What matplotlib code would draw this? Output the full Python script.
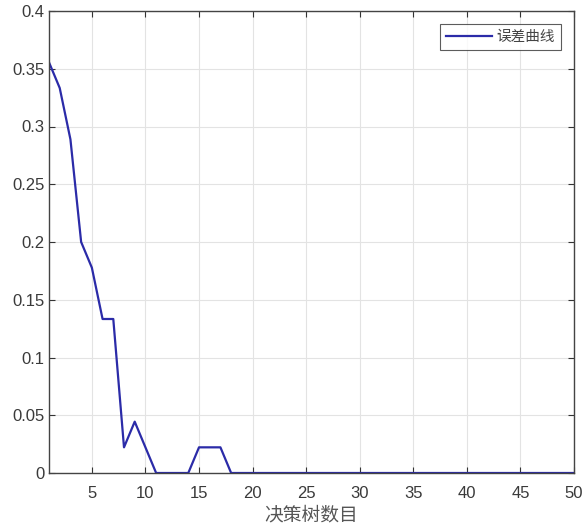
import matplotlib
matplotlib.use("Agg")
import matplotlib.pyplot as plt

trees = list(range(1, 51))
errors = [16/45, 15/45, 13/45, 9/45, 8/45, 6/45, 6/45, 1/45, 2/45, 1/45,
          0, 0, 0, 0, 1/45, 1/45, 1/45, 0] + [0] * 32
xticks = [5, 10, 15, 20, 25, 30, 35, 40, 45, 50]
yticks = [0, 0.05, 0.1, 0.15, 0.2, 0.25, 0.3, 0.35, 0.4]
ytick_labels = ["0", "0.05", "0.1", "0.15", "0.2", "0.25", "0.3", "0.35", "0.4"]

plt.rcParams['font.family'] = ['Liberation Sans', 'Noto Sans CJK SC', 'DejaVu Sans']

fig = plt.figure(figsize=(5.82, 5.31), dpi=100)
ax = fig.add_axes([49/582, 58/531, 525/582, 462/531])
ax.plot(trees, errors, color='#2b2ba8', lw=1.6, label='误差曲线')
ax.set_xlim(1, 50)
ax.set_ylim(0, 0.4)
ax.set_xticks(xticks)
ax.set_yticks(yticks)
ax.set_yticklabels(ytick_labels)
ax.grid(True, color='#e3e3e3', lw=0.8)
ax.set_axisbelow(True)
ax.tick_params(direction='in', top=True, right=True, length=4, color='#333333',
               labelsize=12, labelcolor='#3a3a3a')
ax.tick_params(axis='x', pad=9)
ax.tick_params(axis='y', pad=3)
for s in ax.spines.values():
    s.set_color('#444444')
    s.set_linewidth(1.0)
ax.set_xlabel('决策树数目', fontsize=13.5, color='#555555',
              family=['Noto Sans CJK SC', 'DejaVu Sans'], labelpad=3)
leg = ax.legend(loc='upper right', frameon=True, fancybox=False,
                edgecolor='#333333', prop={'family': ['Noto Sans CJK SC', 'DejaVu Sans'], 'size': 10.5},
                borderaxespad=0.9, handlelength=3.15, handletextpad=0.3, borderpad=0.4)
leg.get_frame().set_linewidth(0.8)
for t in leg.get_texts():
    t.set_color('#444444')
fig.savefig('out.png', dpi=100)
